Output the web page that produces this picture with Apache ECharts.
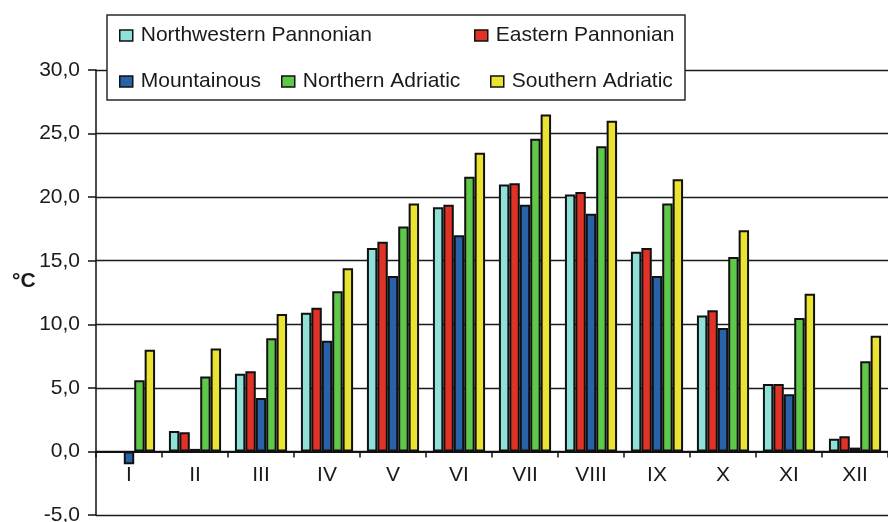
<!DOCTYPE html>
<html>
<head>
<meta charset="utf-8">
<script src="https://cdn.jsdelivr.net/npm/echarts@6/dist/echarts.min.js"></script>
<style>
  html, body { margin: 0; padding: 0; background: #fff; }
  #chart { width: 888px; height: 522px; }
</style>
</head>
<body>
<div id="chart"></div>
<script>
// Monthly mean air temperature (°C) by climate region
const months = ['I', 'II', 'III', 'IV', 'V', 'VI', 'VII', 'VIII', 'IX', 'X', 'XI', 'XII'];

const northwesternPannonian = [-0.1, 1.6, 6.1, 10.9, 16.0, 19.2, 21.0, 20.2, 15.7, 10.7, 5.3, 1.0];
const easternPannonian      = [-0.1, 1.5, 6.3, 11.3, 16.5, 19.4, 21.1, 20.4, 16.0, 11.1, 5.3, 1.2];
const mountainous           = [-1.0, 0.2, 4.2, 8.7, 13.8, 17.0, 19.4, 18.7, 13.8, 9.7, 4.5, 0.3];
const northernAdriatic      = [5.6, 5.9, 8.9, 12.6, 17.7, 21.6, 24.6, 24.0, 19.5, 15.3, 10.5, 7.1];
const southernAdriatic      = [8.0, 8.1, 10.8, 14.4, 19.5, 23.5, 26.5, 26.0, 21.4, 17.4, 12.4, 9.1];

const seriesNames = ['Northwestern Pannonian', 'Eastern Pannonian', 'Mountainous', 'Northern Adriatic', 'Southern Adriatic'];
const seriesValues = [northwesternPannonian, easternPannonian, mountainous, northernAdriatic, southernAdriatic];
const seriesColors = ['#8fe0d8', '#e03226', '#2a62aa', '#5ec84a', '#ebe332'];

const yTicks = [-5, 0, 5, 10, 15, 20, 25, 30];
const unitLabel = '°C';

const FONT = '"Liberation Sans", Arial, sans-serif';
const TEXT = '#1a1a1a';

// legend entries placed in two rows inside a framed box
const legendSlots = [
  { left: 119, top: 25 },
  { left: 474, top: 25 },
  { left: 119, top: 71 },
  { left: 281, top: 71 },
  { left: 490, top: 71 }
];

const chart = echarts.init(document.getElementById('chart'), null, { renderer: 'canvas' });

const option = {
  animation: false,
  backgroundColor: '#fff',
  textStyle: { fontFamily: FONT },
  grid: { left: 96, right: 0, top: 70, bottom: 7, containLabel: false, outerBoundsMode: 'none' },
  graphic: [
    {
      type: 'rect',
      z: 3,
      shape: { x: 107, y: 15, width: 578, height: 85 },
      style: { fill: '#fff', stroke: '#2a2a2a', lineWidth: 1.5 }
    },
    {
      type: 'text',
      z: 3,
      left: 12,
      top: 271,
      style: { text: unitLabel, font: 'bold 21px ' + FONT, fill: TEXT }
    }
  ],
  legend: seriesNames.map((name, i) => ({
    data: [name],
    left: legendSlots[i].left,
    top: legendSlots[i].top,
    padding: 0,
    z: 5,
    icon: 'rect',
    itemWidth: 13,
    itemHeight: 11,
    itemStyle: { borderColor: '#111', borderWidth: 1.5 },
    textStyle: { fontSize: 21, color: TEXT, fontFamily: FONT, padding: [0, 0, 0, 3] },
    selectedMode: false
  })),
  xAxis: [
    {
      // zero line with boundary ticks
      type: 'category',
      data: months,
      axisLine: { onZero: true, lineStyle: { color: '#111', width: 2 } },
      axisTick: { show: true, alignWithLabel: false, length: 6, lineStyle: { color: '#111', width: 1.5 } },
      axisLabel: { show: false },
      splitLine: { show: false }
    },
    {
      // month labels sitting just under the zero line
      type: 'category',
      data: months,
      position: 'bottom',
      axisLine: { show: false, onZero: false },
      axisTick: { show: false },
      axisLabel: { color: TEXT, fontSize: 21, fontFamily: FONT, margin: -50 },
      splitLine: { show: false }
    }
  ],
  yAxis: {
    type: 'value',
    min: yTicks[0],
    max: yTicks[yTicks.length - 1],
    interval: yTicks[1] - yTicks[0],
    axisLine: { show: true, lineStyle: { color: '#111', width: 1.5 } },
    axisTick: { show: true, length: 8, lineStyle: { color: '#111', width: 1.5 } },
    axisLabel: {
      color: TEXT, fontSize: 21, fontFamily: FONT, margin: 16,
      formatter: v => v.toFixed(1).replace('.', ',')
    },
    splitLine: { show: true, lineStyle: { color: '#1a1a1a', width: 1.4 } }
  },
  series: seriesNames.map((name, i) => ({
    name: name,
    type: 'bar',
    xAxisIndex: 0,
    data: seriesValues[i],
    barGap: '0%',
    barCategoryGap: '21%',
    itemStyle: { color: seriesColors[i], borderColor: '#111', borderWidth: 2 },
    emphasis: { disabled: true }
  }))
};

chart.setOption(option);
</script>
</body>
</html>
